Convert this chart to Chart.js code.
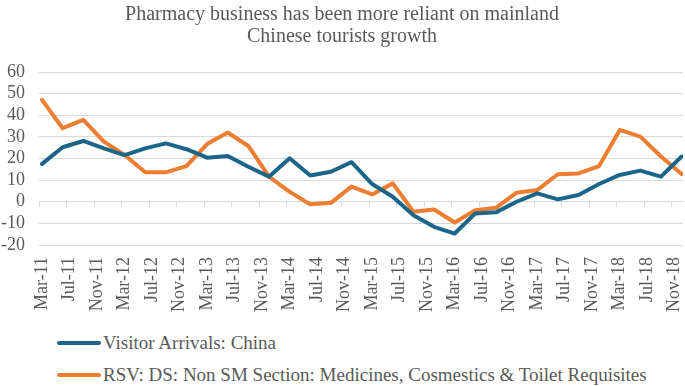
<!DOCTYPE html>
<html>
<head>
<meta charset="utf-8">
<script src="https://cdn.jsdelivr.net/npm/chart.js@4"></script>
<style>
  html, body { margin: 0; padding: 0; background: #fff; }
  #wrap { position: relative; width: 685px; height: 386px; }
  #legend { position: absolute; left: 57px; top: 327px; font-family: "Liberation Serif", serif; font-size: 19px; color: #595959; }
  .item { display: flex; align-items: center; height: 32px; }
  .swatch { width: 44px; height: 4px; border-radius: 2px; margin-right: 2px; }
</style>
</head>
<body>
<div id="wrap">
  <canvas id="myChart" width="685" height="322"></canvas>
  <div id="legend"></div>
</div>
<script>
// quarterly points, Mar-11 .. Dec-18
const quarters = [
  'Mar-11', 'Jun-11', 'Sep-11', 'Dec-11', 'Mar-12', 'Jun-12', 'Sep-12', 'Dec-12',
  'Mar-13', 'Jun-13', 'Sep-13', 'Dec-13', 'Mar-14', 'Jun-14', 'Sep-14', 'Dec-14',
  'Mar-15', 'Jun-15', 'Sep-15', 'Dec-15', 'Mar-16', 'Jun-16', 'Sep-16', 'Dec-16',
  'Mar-17', 'Jun-17', 'Sep-17', 'Dec-17', 'Mar-18', 'Jun-18', 'Sep-18', 'Dec-18'
];
const visitorArrivals = [
  17.5, 25.2, 28.1, 24.7, 21.6, 24.7, 27.0, 24.3,
  20.4, 21.2, 16.2, 11.6, 20.1, 12.1, 13.9, 18.3,
  8.2, 2.3, -6.2, -11.6, -14.7, -5.4, -4.9, 0.0,
  3.9, 1.1, 3.1, 8.2, 12.4, 14.4, 11.6, 20.9
];
const rsvMedicines = [
  47.1, 34.0, 37.9, 27.8, 21.6, 13.6, 13.6, 16.5,
  26.7, 32.0, 25.8, 11.6, 4.6, -1.2, -0.5, 7.0,
  3.4, 8.5, -4.6, -3.6, -9.6, -3.9, -2.8, 4.2,
  5.4, 12.7, 13.1, 16.5, 33.2, 30.1, 20.9, 12.8
];
const tickLabels = [
  'Mar-11', 'Jul-11', 'Nov-11', 'Mar-12', 'Jul-12', 'Nov-12', 'Mar-13', 'Jul-13',
  'Nov-13', 'Mar-14', 'Jul-14', 'Nov-14', 'Mar-15', 'Jul-15', 'Nov-15', 'Mar-16',
  'Jul-16', 'Nov-16', 'Mar-17', 'Jul-17', 'Nov-17', 'Mar-18', 'Jul-18', 'Nov-18'
];
const seriesNames = ['Visitor Arrivals: China', 'RSV: DS: Non SM Section: Medicines, Cosmestics & Toilet Requisites'];
const seriesColors = ['#1b6589', '#ed7d31'];

const MONTHS = ['Jan','Feb','Mar','Apr','May','Jun','Jul','Aug','Sep','Oct','Nov','Dec'];
// months since Mar-11
function monthIndex(lbl) {
  const [m, y] = lbl.split('-');
  return (2000 + Number(y) - 2011) * 12 + MONTHS.indexOf(m) - 2;
}
const tickPos = tickLabels.map(monthIndex);
const tickText = {};
tickLabels.forEach(l => { tickText[monthIndex(l)] = l; });

const toPoints = vals => quarters.map((q, i) => ({ x: monthIndex(q), y: vals[i] }));

const serif = 'Liberation Serif, serif';
const grey = '#595959';
const xMin = -0.44, xMax = 93.2;

const ctx = document.getElementById('myChart').getContext('2d');
const chart = new Chart(ctx, {
  type: 'line',
  data: {
    datasets: [visitorArrivals, rsvMedicines].map((vals, i) => ({
      label: seriesNames[i],
      data: toPoints(vals),
      borderColor: seriesColors[i],
      backgroundColor: seriesColors[i],
      borderWidth: 4,
      pointRadius: 0,
      tension: 0,
      borderJoinStyle: 'round',
      borderCapStyle: 'round',
      xAxisID: 'x'
    }))
  },
  options: {
    responsive: false,
    animation: false,
    layout: { padding: { left: 1, right: 2, top: 2, bottom: 5 } },
    plugins: {
      legend: { display: false },
      tooltip: { enabled: false },
      title: {
        display: true,
        text: ['Pharmacy business has been more reliant on mainland', 'Chinese tourists growth'],
        color: grey,
        font: { family: serif, size: 20, weight: 'normal', lineHeight: 1.1 },
        padding: { top: 2, bottom: 24 }
      }
    },
    scales: {
      x: {
        type: 'linear',
        position: 'bottom',
        min: xMin,
        max: xMax,
        afterBuildTicks: axis => { axis.ticks = tickPos.map(v => ({ value: v })); },
        afterFit: axis => { axis.height = 72; axis.paddingLeft = 0; axis.paddingRight = 0; },
        grid: { display: false, drawTicks: false },
        border: { display: false },
        ticks: {
          autoSkip: false,
          minRotation: 90,
          maxRotation: 90,
          padding: 12,
          color: grey,
          font: { family: serif, size: 18 },
          callback: v => tickText[v]
        }
      },
      // axis line + tick marks sitting on the zero line
      xZero: {
        type: 'linear',
        position: { y: 0 },
        min: xMin,
        max: xMax,
        afterBuildTicks: axis => { axis.ticks = tickPos.map(v => ({ value: v - 0.44 })); },
        afterFit: axis => { axis.height = 5; axis.paddingLeft = 0; axis.paddingRight = 0; },
        grid: { drawOnChartArea: false, drawTicks: true, tickLength: 5, color: '#d9d9d9' },
        border: { display: true, color: '#d9d9d9', width: 1 },
        ticks: { display: false, callback: () => '' }
      },
      y: {
        min: -20,
        max: 60,
        afterFit: axis => { axis.width = 38; },
        ticks: {
          stepSize: 10,
          autoSkip: false,
          padding: 14,
          color: grey,
          font: { family: serif, size: 18 }
        },
        grid: { color: '#d9d9d9', lineWidth: 1, drawTicks: false },
        border: { display: false }
      }
    }
  }
});

// legend in a column under the chart
const legendBox = document.getElementById('legend');
chart.data.datasets.forEach(ds => {
  const row = document.createElement('div');
  row.className = 'item';
  const sw = document.createElement('span');
  sw.className = 'swatch';
  sw.style.background = ds.borderColor;
  const txt = document.createElement('span');
  txt.textContent = ds.label;
  row.appendChild(sw);
  row.appendChild(txt);
  legendBox.appendChild(row);
});
</script>
</body>
</html>
